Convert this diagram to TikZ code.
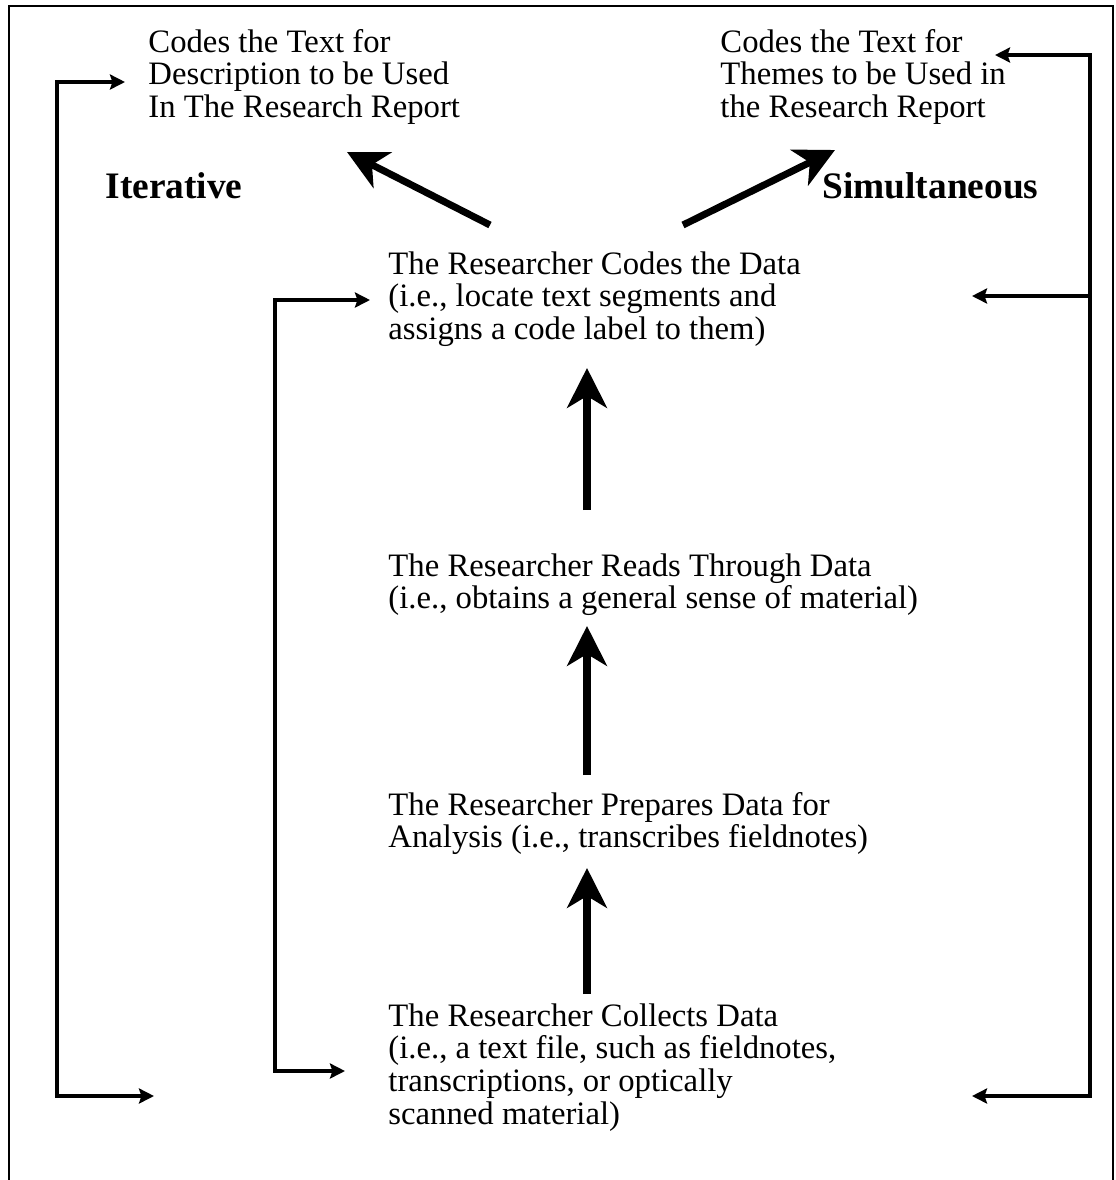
\documentclass[tikz,border=0pt]{standalone}
\usepackage{fontspec}
\setmainfont{Liberation Serif}
\usetikzlibrary{arrows.meta}
\newcommand\stacklines[1]{\begin{tabular}[t]{@{}l@{}}#1\end{tabular}}

\begin{document}
\begin{tikzpicture}[x=0.428pt,y=-0.428pt,
  txt/.style={anchor=base west, inner sep=0pt, font=\fontsize{14}{14.1}\selectfont},
  sidelabel/.style={anchor=base west, inner sep=0pt, font=\fontsize{16}{18}\selectfont\bfseries},
  frame/.style={line width=0.8pt},
  looptip/.tip={Stealth[length=6.4pt,width=6.4pt,inset=1pt]},
  bigtip/.tip={Stealth[length=17pt,width=17pt,inset=5pt]},
  loopline/.style={line width=1.7pt},
  flow/.style={line width=3pt,-bigtip},
]
\useasboundingbox (0,0) rectangle (1116,1180);

% open frame (no bottom edge)
\draw[frame] (9,1180) -- (9,6) -- (1113,6) -- (1113,1180);

% text blocks
\node[txt] (desc) at (148,52) {\stacklines{Codes the Text for\\Description to be Used\\In The Research Report}};
\node[txt] (themes) at (720,52) {\stacklines{Codes the Text for\\Themes to be Used in\\the Research Report}};
\node[sidelabel] (iter) at (105,198) {Iterative};
\node[sidelabel] (simul) at (822,198) {Simultaneous};
\node[txt] (codes) at (388,274) {\stacklines{The Researcher Codes the Data\\(i.e., locate text segments and\\assigns a code label to them)}};
\node[txt] (reads) at (388,576) {\stacklines{The Researcher Reads Through Data\\(i.e., obtains a general sense of material)}};
\node[txt] (prep) at (388,815) {\stacklines{The Researcher Prepares Data for\\Analysis (i.e., transcribes fieldnotes)}};
\node[txt] (collect) at (388,1026) {\stacklines{The Researcher Collects Data\\(i.e., a text file, such as fieldnotes,\\transcriptions, or optically\\scanned material)}};

% main flow upward
\coordinate (c1t) at (587,510);  \coordinate (c1h) at (587,368);
\coordinate (c2t) at (587,775);  \coordinate (c2h) at (587,626);
\coordinate (c3t) at (587,994);  \coordinate (c3h) at (587,868);
\draw[flow] (c1t) -- (c1h);
\draw[flow] (c2t) -- (c2h);
\draw[flow] (c3t) -- (c3h);

% branching to the two coding outcomes
\coordinate (dlt) at (490,225); \coordinate (dlh) at (347,152);
\coordinate (drt) at (683,225); \coordinate (drh) at (835,150);
\draw[flow] (dlt) -- (dlh);
\draw[flow] (drt) -- (drh);

% iterative loops on the left
\coordinate (oTop) at (125,82);   \coordinate (oBot) at (154,1096);
\draw[loopline,looptip-looptip] (oBot) -- (57,1096) -- (57,82) -- (oTop);
\coordinate (iTop) at (370,300);  \coordinate (iBot) at (345,1071);
\draw[loopline,looptip-looptip] (iBot) -- (275,1071) -- (275,300) -- (iTop);

% simultaneous loop on the right
\coordinate (rTop) at (995,55); \coordinate (rMid) at (972,296); \coordinate (rBot) at (972,1096);
\draw[loopline,looptip-looptip] (rBot) -- (1090,1096) -- (1090,55) -- (rTop);
\draw[loopline,-looptip] (1090,296) -- (rMid);
\end{tikzpicture}
\end{document}
